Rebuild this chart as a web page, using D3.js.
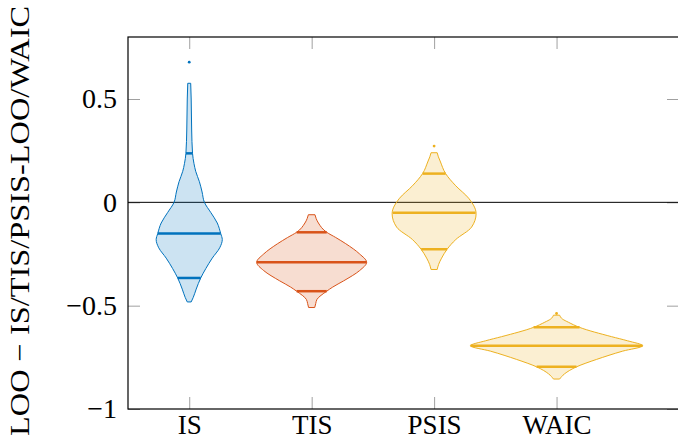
<!DOCTYPE html>
<html lang="en">
<head>
	<meta charset="utf-8">
	<title>LOO violins</title>
	<script src="https://cdn.jsdelivr.net/npm/d3@7/dist/d3.min.js"></script>
</head>
<body style="margin:0; background:#fff">
<script>

// Categories shown along the x axis
var methods = ["IS", "TIS", "PSIS", "WAIC"];

// Kernel density outline of each violin: y levels and half width (in category units)
var isLevels   = [0.576, 0.5, 0.35, 0.237, 0.187, 0.15, 0.1, 0.05, 0, -0.05, -0.1, -0.151, -0.18, -0.22, -0.27, -0.32, -0.366, -0.42, -0.46, -0.482];
var isDensity  = [0.012, 0.016, 0.020, 0.027, 0.039, 0.053, 0.083, 0.105, 0.124, 0.177, 0.229, 0.257, 0.270, 0.249, 0.188, 0.136, 0.094, 0.057, 0.033, 0.016];

var tisLevels  = [-0.06, -0.079, -0.1, -0.145, -0.17, -0.2, -0.25, -0.29, -0.33, -0.38, -0.41, -0.43, -0.47, -0.49, -0.509];
var tisDensity = [0.027, 0.037, 0.055, 0.123, 0.196, 0.278, 0.392, 0.449, 0.392, 0.261, 0.172, 0.123, 0.043, 0.033, 0.025];

var psisLevels  = [0.24, 0.22, 0.2, 0.139, 0.08, 0.02, -0.055, -0.12, -0.18, -0.227, -0.27, -0.3, -0.325];
var psisDensity = [0.025, 0.035, 0.049, 0.094, 0.177, 0.282, 0.343, 0.306, 0.177, 0.106, 0.061, 0.037, 0.025];

var waicLevels  = [-0.546, -0.565, -0.58, -0.605, -0.65, -0.67, -0.694, -0.72, -0.76, -0.796, -0.83, -0.855];
var waicDensity = [0.025, 0.049, 0.096, 0.188, 0.449, 0.580, 0.703, 0.540, 0.327, 0.163, 0.065, 0.025];

// Upper quartile, median, lower quartile of each method
var isQuant   = [0.237, -0.151, -0.366];
var tisQuant  = [-0.145, -0.29, -0.43];
var psisQuant = [0.139, -0.05, -0.227];
var waicQuant = [-0.605, -0.694, -0.796];

// Outlying points drawn as dots
var isOut   = [0.678];
var psisOut = [0.272];
var waicOut = [-0.538];

// Tick values
var yTicks = [-1, -0.5, 0, 0.5];
var yLabel = "LOO \u2212 IS/TIS/PSIS-LOO/WAIC";

var colors = ["#0072BD", "#D95319", "#EDB120", "#EDB120"];

var violins = [
	{levels: isLevels, density: isDensity, quant: isQuant, out: isOut},
	{levels: tisLevels, density: tisDensity, quant: tisQuant, out: []},
	{levels: psisLevels, density: psisDensity, quant: psisQuant, out: psisOut},
	{levels: waicLevels, density: waicDensity, quant: waicQuant, out: waicOut}
];

var fontFamily = "'Liberation Serif'";

// Define margins
var margin = {top: 37, right: -1, bottom: 32, left: 128};
var outer_width = 678;
var outer_height = 441;
var width = outer_width - margin.left - margin.right;
var height = outer_height - margin.top - margin.bottom;

var svg = d3.select("body")
			.append("svg")
			.attr("width", outer_width)
			.attr("height", outer_height)
			.append("g")
			.attr("transform", "translate(" + margin.left + "," + margin.top + ")");

var xScale = d3.scaleLinear().domain([0.5, 5]).range([0, width]);
var yScale = d3.scaleLinear().domain([-1, 0.8]).range([height, 0]);

// Gray ticks pointing inwards on all four sides
var xPos = methods.map(function(d, i) { return i + 1; });
var tickGray = "#a0a0a0";

var xAxis = d3.axisBottom(xScale).tickValues(xPos)
			.tickFormat(function(d) { return methods[d - 1]; })
			.tickSizeInner(-12).tickSizeOuter(0).tickPadding(6);
var yAxis = d3.axisLeft(yScale).tickValues(yTicks)
			.tickFormat(d3.format("~g"))
			.tickSizeInner(-12).tickSizeOuter(0).tickPadding(11);

var gx = svg.append("g").attr("transform", "translate(0," + height + ")").call(xAxis);
var gy = svg.append("g").call(yAxis);
var gTop = svg.append("g").call(d3.axisTop(xScale).tickValues(xPos).tickFormat("").tickSizeInner(-12).tickSizeOuter(0));
var gRight = svg.append("g").attr("transform", "translate(" + width + ",0)")
			.call(d3.axisRight(yScale).tickValues(yTicks).tickFormat("").tickSizeInner(-12).tickSizeOuter(0));

[gx, gy, gTop, gRight].forEach(function(g) {
	g.attr("font-family", null).attr("font-size", null);
	g.select(".domain").remove();
	g.selectAll(".tick line").attr("stroke", tickGray).attr("stroke-width", 1);
	g.selectAll(".tick text")
		.attr("fill", "#000")
		.style("font-family", fontFamily)
		.style("font-size", "28px");
});

// x labels a touch smaller so they stay inside the page
gx.selectAll(".tick text").style("font-size", "27px");

// Zero reference line
svg.append("line")
	.attr("x1", 0).attr("x2", width)
	.attr("y1", yScale(0)).attr("y2", yScale(0))
	.attr("stroke", "#000").attr("stroke-width", 1);

// Draw the violins
violins.forEach(function(v, i) {
	var cx = i + 1;
	var col = colors[i];
	var pts = v.levels.map(function(l, k) { return {y: l, w: v.density[k]}; });

	var area = d3.area()
				.y(function(d) { return yScale(d.y); })
				.x0(function(d) { return xScale(cx - d.w); })
				.x1(function(d) { return xScale(cx + d.w); })
				.curve(d3.curveMonotoneY);

	svg.append("path")
		.datum(pts)
		.attr("d", area)
		.attr("fill", col)
		.attr("fill-opacity", 0.2)
		.attr("stroke", col)
		.attr("stroke-width", 1);

	// width of the outline at a given level
	var wAt = d3.scaleLinear().domain(v.levels).range(v.density);

	svg.selectAll(null)
		.data(v.quant)
		.enter()
		.append("line")
		.attr("x1", function(d) { return xScale(cx - wAt(d)); })
		.attr("x2", function(d) { return xScale(cx + wAt(d)); })
		.attr("y1", function(d) { return yScale(d); })
		.attr("y2", function(d) { return yScale(d); })
		.attr("stroke", col)
		.attr("stroke-width", 2.5);

	svg.selectAll(null)
		.data(v.out)
		.enter()
		.append("circle")
		.attr("cx", xScale(cx))
		.attr("cy", function(d) { return yScale(d); })
		.attr("r", 1.4)
		.attr("fill", col);
});

// Axis box
svg.append("rect")
	.attr("width", width).attr("height", height)
	.attr("fill", "none").attr("stroke", "#000").attr("stroke-width", 1.2);

// y axis label
svg.append("text")
	.attr("transform", "translate(" + (29 - margin.left) + "," + (221 - margin.top) + ") rotate(-90)")
	.attr("text-anchor", "middle")
	.attr("textLength", 430)
	.attr("lengthAdjust", "spacingAndGlyphs")
	.style("font-family", fontFamily)
	.style("font-size", "28px")
	.text(yLabel);

</script>
</body>
</html>
